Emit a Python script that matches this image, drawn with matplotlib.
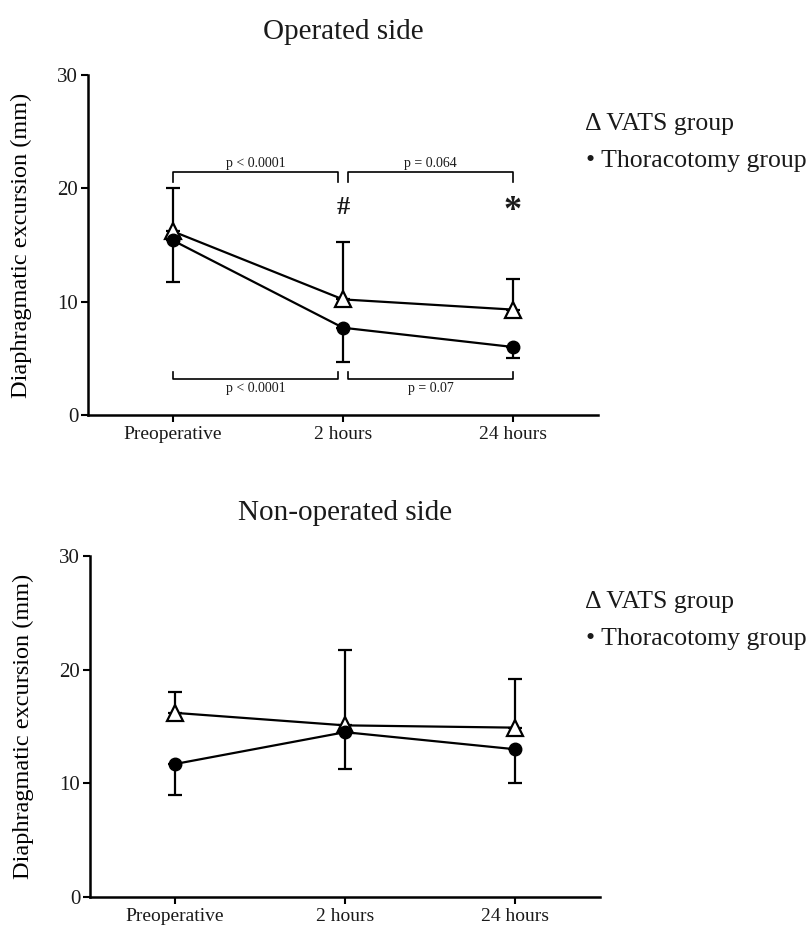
import matplotlib
matplotlib.use('Agg')
import matplotlib.pyplot as plt

plt.rcParams['font.family'] = ['Liberation Serif', 'DejaVu Serif']
plt.rcParams['text.color'] = '#1a1a1a'
plt.rcParams['xtick.labelcolor'] = '#1a1a1a'
plt.rcParams['ytick.labelcolor'] = '#1a1a1a'

timepoints = ['Preoperative', '2 hours', '24 hours']

# operated side
op_vats = [16.2, 10.2, 9.3]
op_vats_err = [3.8, 5.1, 2.7]      # upward bars
op_thor = [15.4, 7.7, 6.0]
op_thor_err = [3.7, 3.0, 1.0]      # downward bars

# non-operated side
non_vats = [16.2, 15.1, 14.9]
non_vats_err = [1.8, 6.6, 4.3]
non_thor = [11.7, 14.5, 13.0]
non_thor_err = [2.7, 3.2, 3.0]

p_labels_top = ['p < 0.0001', 'p = 0.064']
p_labels_bottom = ['p < 0.0001', 'p = 0.07']

fig = plt.figure(figsize=(8.1, 9.27), dpi=100)
ax1 = fig.add_axes([88 / 810, 1 - 415 / 927, 510 / 810, 340 / 927])
ax2 = fig.add_axes([90 / 810, 1 - 897 / 927, 510 / 810, 341 / 927])


def draw_panel(ax, vats, vats_err, thor, thor_err, title):
    x = range(len(timepoints))
    ax.errorbar(x, vats, yerr=[[0] * 3, vats_err], color='black', lw=1.6,
                marker='^', ms=12, mfc='white', mec='black', mew=1.6,
                capsize=5, capthick=1.6, elinewidth=1.6, zorder=3)
    ax.errorbar(x, thor, yerr=[thor_err, [0] * 3], color='black', lw=1.6,
                marker='o', ms=9, mfc='black', mec='black',
                capsize=5, capthick=1.6, elinewidth=1.6, zorder=4)
    ax.set_xlim(-0.5, 2.5)
    ax.set_ylim(0, 30)
    ax.set_yticks([0, 10, 20, 30])
    ax.set_xticks(list(x))
    ax.set_xticklabels(timepoints, fontsize=14)
    ax.tick_params(axis='y', labelsize=15, length=5, width=1.5, pad=2)
    ax.tick_params(axis='x', length=5, width=1.5, pad=3)
    for s in ['top', 'right']:
        ax.spines[s].set_visible(False)
    for s in ['left', 'bottom']:
        ax.spines[s].set_linewidth(1.8)
    ax.set_ylabel('Diaphragmatic excursion (mm)', fontsize=17.5, labelpad=18)
    ax.set_title(title, fontsize=21, pad=26)


draw_panel(ax1, op_vats, op_vats_err, op_thor, op_thor_err, 'Operated side')
draw_panel(ax2, non_vats, non_vats_err, non_thor, non_thor_err, 'Non-operated side')

# significance brackets on the operated side
spans = [(0.0, 0.97), (1.03, 2.0)]
for (a, b), lab in zip(spans, p_labels_top):
    ax1.plot([a, a, b, b], [20.6, 21.4, 21.4, 20.6], color='black', lw=1.2)
    ax1.text((a + b) / 2, 21.6, lab, ha='center', va='bottom', fontsize=10)
for (a, b), lab in zip(spans, p_labels_bottom):
    ax1.plot([a, a, b, b], [3.8, 3.2, 3.2, 3.8], color='black', lw=1.2)
    ax1.text((a + b) / 2, 2.9, lab, ha='center', va='top', fontsize=10)
ax1.text(1.0, 18.3, '#', ha='center', va='center', fontsize=19, fontweight='bold')
ax1.text(2.0, 18.0, '*', ha='center', va='center', fontsize=26, fontweight='bold')

# legends as plain text
for y0 in [124 / 927, 602 / 927]:
    fig.text(585 / 810, 1 - y0, '\u0394 VATS group', fontsize=18.5, va='center')
    fig.text(586 / 810, 1 - y0 - 37 / 927, '\u2022 Thoracotomy group',
             fontsize=18.5, va='center')

fig.savefig('out.png', dpi=100)
